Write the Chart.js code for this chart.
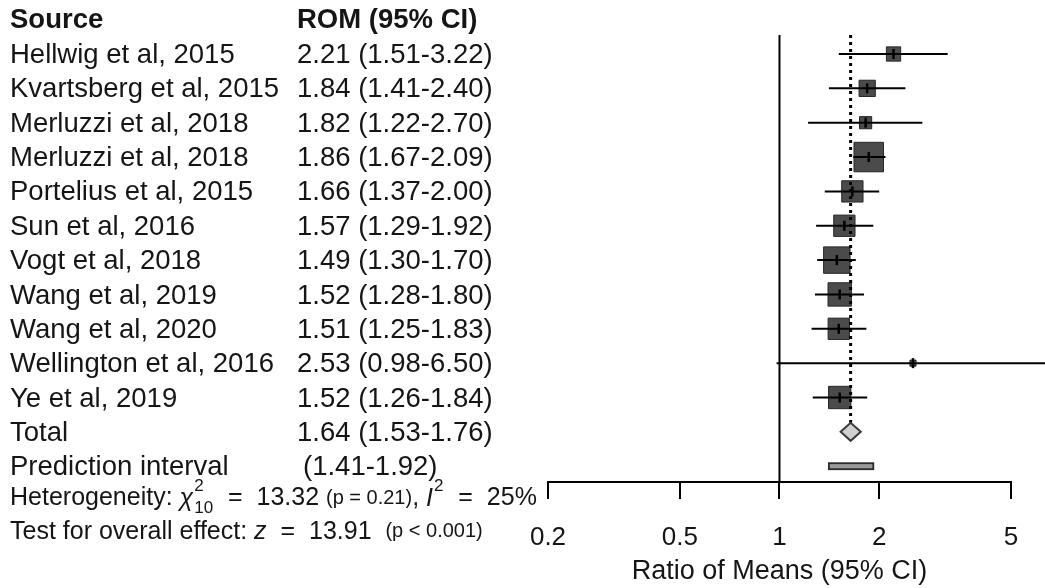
<!DOCTYPE html>
<html>
<head>
<meta charset="utf-8">
<script src="https://cdn.jsdelivr.net/npm/chart.js@4/dist/chart.umd.min.js"></script>
<style>
  html, body { margin: 0; padding: 0; background: #ffffff; }
  canvas { display: block; }
</style>
</head>
<body>
<canvas id="forest" width="1045" height="588"></canvas>
<script>
// Study-level data (ratio of means with 95% CI, random-effects weights in %)
const studies = [
  'Hellwig et al, 2015',
  'Kvartsberg et al, 2015',
  'Merluzzi et al, 2018',
  'Merluzzi et al, 2018',
  'Portelius et al, 2015',
  'Sun et al, 2016',
  'Vogt et al, 2018',
  'Wang et al, 2019',
  'Wang et al, 2020',
  'Wellington et al, 2016',
  'Ye et al, 2019'
];
const rom    = [2.21, 1.84, 1.82, 1.86, 1.66, 1.57, 1.49, 1.52, 1.51, 2.53, 1.52];
const lower  = [1.51, 1.41, 1.22, 1.67, 1.37, 1.29, 1.30, 1.28, 1.25, 0.98, 1.26];
const upper  = [3.22, 2.40, 2.70, 2.09, 2.00, 1.92, 1.70, 1.80, 1.83, 6.50, 1.84];
const weights = [4.4, 5.7, 3.2, 18.8, 9.8, 9.8, 15.1, 11.8, 9.8, 0.8, 10.8];

// Pooled estimate and prediction interval
const pooled = [1.64, 1.53, 1.76];      // estimate, lower, upper
const prediction = [1.41, 1.92];         // lower, upper

// Heterogeneity and overall-effect statistics
const hetStats = [13.32, 10, 0.21, 25];  // chi-square, df, p, I^2 (%)
const effectStats = [13.91, '< 0.001'];  // z, p

// Axis ticks
const xTicks = [0.2, 0.5, 1, 2, 5];
const xTitle = 'Ratio of Means (95% CI)';

const FONT = '"Liberation Sans", Arial, Helvetica, sans-serif';
const INK = '#151515';
const totalRow = studies.length;
const predRow = studies.length + 1;
const fmt = v => v.toFixed(2);

// Square side grows with the square root of the weight
const squareSide = w => 6.8 * Math.sqrt(w);

const datasets = [];
// point-estimate ticks (vertical strokes)
datasets.push({
  type: 'scatter',
  data: rom.map((v, i) => ({ x: v, y: i })),
  pointStyle: 'line',
  rotation: 90,
  pointRadius: 5,
  borderColor: '#000',
  borderWidth: 2.5,
  order: 0
});
// confidence-interval whiskers
studies.forEach((s, i) => {
  datasets.push({
    type: 'scatter',
    data: [{ x: lower[i], y: i }, { x: upper[i], y: i }],
    showLine: true,
    borderColor: '#000',
    borderWidth: 2,
    pointRadius: 0,
    order: 1
  });
});
// weighted squares
datasets.push({
  type: 'scatter',
  data: rom.map((v, i) => ({ x: v, y: i })),
  pointStyle: 'rect',
  pointRadius: weights.map(w => squareSide(w) / Math.SQRT2),
  backgroundColor: '#4b4b4b',
  borderColor: '#262626',
  borderWidth: 1,
  order: 2
});

function setFont(ctx, size, style) {
  ctx.font = (style || '') + ' ' + size + 'px ' + FONT;
}

function drawRuns(ctx, runs, x, y) {
  runs.forEach(r => {
    if (r.sup !== undefined || r.sub !== undefined) {
      setFont(ctx, 17, '');
      let w = 0;
      if (r.sup !== undefined) { ctx.fillText(r.sup, x + 1, y - 12); w = Math.max(w, ctx.measureText(r.sup).width); }
      if (r.sub !== undefined) { ctx.fillText(r.sub, x + 1, y + 10); w = Math.max(w, ctx.measureText(r.sub).width); }
      x += w + 2;
      return;
    }
    setFont(ctx, r.size, r.style);
    ctx.fillText(r.t, x, y);
    x += ctx.measureText(r.t).width;
  });
}

const forestDecor = {
  id: 'forestDecor',
  beforeDatasetsDraw(chart) {
    const { ctx, chartArea, scales: { x } } = chart;
    ctx.save();
    // line of no effect
    ctx.strokeStyle = '#000';
    ctx.lineWidth = 2;
    ctx.beginPath();
    ctx.moveTo(x.getPixelForValue(1), chartArea.top);
    ctx.lineTo(x.getPixelForValue(1), chartArea.bottom);
    ctx.stroke();
    // x axis baseline from first to last tick
    ctx.beginPath();
    ctx.moveTo(x.getPixelForValue(xTicks[0]) - 1, chartArea.bottom);
    ctx.lineTo(x.getPixelForValue(xTicks[xTicks.length - 1]) + 1, chartArea.bottom);
    ctx.stroke();
    ctx.restore();
  },
  afterDatasetsDraw(chart) {
    const { ctx, chartArea, scales: { x, y } } = chart;
    ctx.save();
    const ty = y.getPixelForValue(totalRow);
    const halfH = 9;
    // dotted reference at pooled estimate
    ctx.strokeStyle = '#000';
    ctx.lineWidth = 3;
    ctx.setLineDash([3, 4]);
    ctx.beginPath();
    ctx.moveTo(x.getPixelForValue(pooled[0]), chartArea.top);
    ctx.lineTo(x.getPixelForValue(pooled[0]), ty - halfH);
    ctx.stroke();
    ctx.setLineDash([]);
    // pooled diamond
    ctx.beginPath();
    ctx.moveTo(x.getPixelForValue(pooled[1]), ty);
    ctx.lineTo(x.getPixelForValue(pooled[0]), ty - halfH);
    ctx.lineTo(x.getPixelForValue(pooled[2]), ty);
    ctx.lineTo(x.getPixelForValue(pooled[0]), ty + halfH);
    ctx.closePath();
    ctx.fillStyle = '#d0d0d0';
    ctx.fill();
    ctx.lineWidth = 2;
    ctx.strokeStyle = '#3a3a3a';
    ctx.stroke();
    // prediction interval bar
    const py = y.getPixelForValue(predRow);
    const px0 = x.getPixelForValue(prediction[0]);
    const px1 = x.getPixelForValue(prediction[1]);
    ctx.fillStyle = '#9a9a9a';
    ctx.fillRect(px0, py - 3, px1 - px0, 6);
    ctx.lineWidth = 1.8;
    ctx.strokeStyle = '#2a2a2a';
    ctx.strokeRect(px0, py - 3, px1 - px0, 6);

    // text columns
    ctx.fillStyle = INK;
    ctx.textBaseline = 'middle';
    ctx.textAlign = 'left';
    const colName = 10, colRom = 297, dy = 1.5;
    const hy = y.getPixelForValue(-1) + 0.5;
    setFont(ctx, 27.5, 'bold');
    ctx.fillText('Source', colName, hy);
    ctx.fillText('ROM (95% CI)', colRom, hy);
    setFont(ctx, 27.5, '');
    studies.forEach((s, i) => {
      const ry = y.getPixelForValue(i) + dy;
      ctx.fillText(s, colName, ry);
      ctx.fillText(fmt(rom[i]) + ' (' + fmt(lower[i]) + '-' + fmt(upper[i]) + ')', colRom, ry);
    });
    ctx.fillText('Total', colName, ty + dy);
    ctx.fillText(fmt(pooled[0]) + ' (' + fmt(pooled[1]) + '-' + fmt(pooled[2]) + ')', colRom, ty + dy);
    ctx.fillText('Prediction interval', colName, py + dy);
    ctx.fillText('(' + fmt(prediction[0]) + '-' + fmt(prediction[1]) + ')', colRom + 6, py + dy);

    // heterogeneity and overall effect
    const y13 = y.getPixelForValue(predRow + 1) - 2;
    const y14 = y.getPixelForValue(predRow + 2) - 3;
    drawRuns(ctx, [
      { t: 'Heterogeneity: ', size: 25 },
      { t: '\u03C7', size: 25, style: 'italic' },
      { sup: '2', sub: String(hetStats[1]) },
      { t: '  =  ' + fmt(hetStats[0]) + ' ', size: 25 },
      { t: '(p = ' + fmt(hetStats[2]) + ')', size: 20 },
      { t: ', ', size: 25 },
      { t: 'I', size: 25, style: 'italic' },
      { sup: '2' },
      { t: '  =  ' + hetStats[3] + '%', size: 25 }
    ], colName, y13);
    drawRuns(ctx, [
      { t: 'Test for overall effect: ', size: 25 },
      { t: 'z', size: 25, style: 'italic' },
      { t: '  =  ' + fmt(effectStats[0]) + '  ', size: 25 },
      { t: '(p ' + effectStats[1] + ')', size: 20 }
    ], colName, y14);

    // axis title centred under the tick range
    setFont(ctx, 27, '');
    ctx.textAlign = 'center';
    const cx = (x.getPixelForValue(xTicks[0]) + x.getPixelForValue(xTicks[xTicks.length - 1])) / 2;
    ctx.fillText(xTitle, cx, 572);
    ctx.restore();
  }
};

new Chart(document.getElementById('forest'), {
  type: 'scatter',
  data: { datasets },
  options: {
    responsive: false,
    animation: false,
    events: [],
    layout: { autoPadding: false, padding: { left: 548, right: 0, top: 35, bottom: 0 } },
    plugins: { legend: { display: false }, tooltip: { enabled: false } },
    scales: {
      x: {
        type: 'logarithmic',
        min: 0.2,
        max: 6.335,
        border: { display: false },
        grid: { drawOnChartArea: false, drawTicks: true, tickLength: 17, color: '#000', lineWidth: 2 },
        afterBuildTicks: scale => { scale.ticks = xTicks.map(v => ({ value: v })); },
        afterFit: scale => {
          scale.height = 106;
          scale.paddingLeft = 0;
          scale.paddingRight = 0;
        },
        ticks: {
          autoSkip: false,
          maxRotation: 0,
          padding: 23,
          color: INK,
          font: { family: FONT, size: 26 },
          callback: v => String(v)
        }
      },
      y: {
        display: false,
        reverse: true,
        min: -0.553,
        max: 12.46
      }
    }
  },
  plugins: [forestDecor]
});
</script>
</body>
</html>
